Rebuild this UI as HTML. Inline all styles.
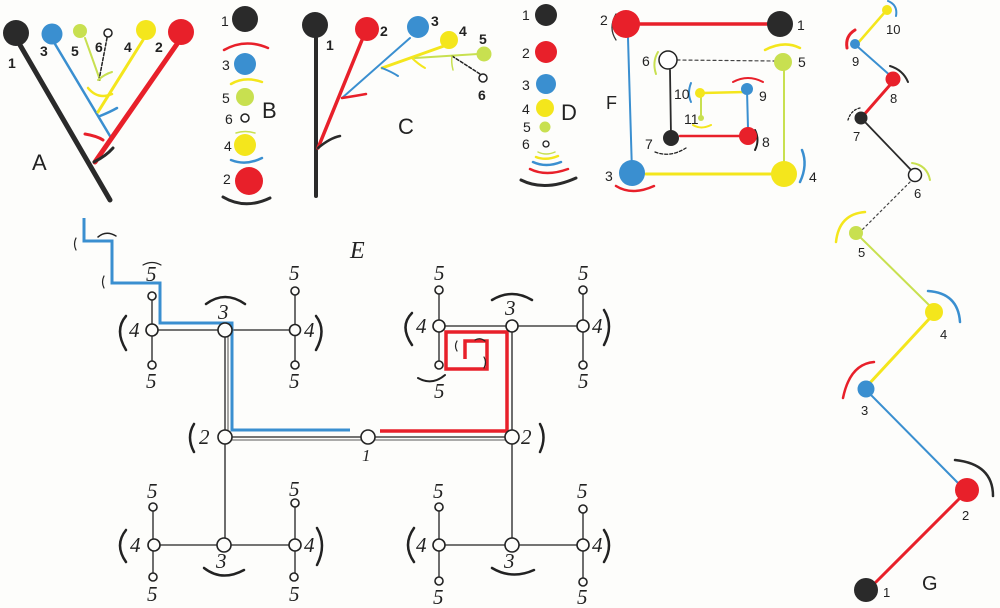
<!DOCTYPE html>
<html><head><meta charset="utf-8"><style>
html,body{margin:0;padding:0;background:#fdfdfb;}
svg{display:block;}
.s{font-family:"Liberation Sans",sans-serif;fill:#222;}
.e{font-family:"Liberation Serif",serif;font-style:italic;fill:#222;}
</style></head><body>
<svg width="1000" height="608" viewBox="0 0 1000 608" xmlns="http://www.w3.org/2000/svg">
<rect width="1000" height="608" fill="#fdfdfb"/>
<!-- ===== A ===== -->
<g fill="none" stroke-linecap="round">
<line x1="20" y1="45" x2="110" y2="200" stroke="#2a2a2a" stroke-width="5"/>
<line x1="55" y1="44" x2="110" y2="136" stroke="#3a8fd0" stroke-width="2.5"/>
<line x1="85" y1="38" x2="100" y2="80" stroke="#c8e050" stroke-width="2"/>
<line x1="107" y1="38" x2="99" y2="80" stroke="#222" stroke-width="1.5" stroke-dasharray="3,2"/>
<line x1="143" y1="40" x2="98" y2="112" stroke="#f4e61c" stroke-width="3"/>
<line x1="177" y1="44" x2="95" y2="162" stroke="#e8202a" stroke-width="5"/>
<path d="M98,80 Q105,74 112,72" stroke="#c8e050" stroke-width="2"/>
<path d="M88,88 Q98,100 112,94" stroke="#f4e61c" stroke-width="2.5"/>
<path d="M100,116 Q110,112 117,108" stroke="#3a8fd0" stroke-width="2.5"/>
<path d="M85,134 Q97,136 103,140" stroke="#e8202a" stroke-width="3"/>
<path d="M94,162 Q106,156 113,148" stroke="#2a2a2a" stroke-width="3"/>
</g>
<circle cx="16" cy="33" r="13" fill="#2a2a2a"/>
<circle cx="52" cy="34" r="10.5" fill="#3a8fd0"/>
<circle cx="80" cy="31" r="7" fill="#c8e050"/>
<circle cx="108" cy="33" r="4" fill="#fff" stroke="#222" stroke-width="1.5"/>
<circle cx="146" cy="30" r="10" fill="#f4e61c"/>
<circle cx="181" cy="32" r="13" fill="#e8202a"/>
<g class="s" font-size="14" font-weight="bold">
<text x="8" y="68">1</text><text x="40" y="56">3</text><text x="71" y="56">5</text><text x="95" y="52">6</text><text x="124" y="52">4</text><text x="155" y="52">2</text>
</g>
<text class="s" x="32" y="170" font-size="22">A</text>
<!-- ===== B ===== -->
<circle cx="245" cy="19" r="13" fill="#2a2a2a"/>
<circle cx="245" cy="64" r="11" fill="#3a8fd0"/>
<circle cx="245" cy="97" r="9" fill="#c8e050"/>
<circle cx="245" cy="118" r="4" fill="#fff" stroke="#222" stroke-width="1.5"/>
<circle cx="245" cy="145" r="11" fill="#f4e61c"/>
<circle cx="249" cy="181" r="14" fill="#e8202a"/>
<g fill="none" stroke-width="2.5" stroke-linecap="round">
<path d="M224,50 Q245,38 268,48" stroke="#e8202a"/>
<path d="M231,84 Q245,76 262,82" stroke="#f4e61c"/>
<path d="M236,133 Q245,130 255,133" stroke="#c8e050" stroke-width="1.5"/>
<path d="M231,160 Q246,166 262,158" stroke="#3a8fd0"/>
<path d="M223,197 Q245,210 270,198" stroke="#2a2a2a" stroke-width="3"/>
</g>
<g class="s" font-size="14"><text x="221" y="26">1</text><text x="222" y="70">3</text><text x="222" y="103">5</text><text x="225" y="124">6</text><text x="224" y="151">4</text><text x="223" y="184">2</text></g>
<text class="s" x="262" y="118" font-size="22">B</text>
<!-- ===== C ===== -->
<g fill="none" stroke-linecap="round">
<line x1="316" y1="38" x2="316" y2="196" stroke="#2a2a2a" stroke-width="4"/>
<line x1="362" y1="40" x2="318" y2="148" stroke="#e8202a" stroke-width="3.5"/>
<line x1="410" y1="38" x2="342" y2="98" stroke="#3a8fd0" stroke-width="2"/>
<line x1="444" y1="46" x2="382" y2="68" stroke="#f4e61c" stroke-width="3"/>
<line x1="478" y1="54" x2="415" y2="58" stroke="#c8e050" stroke-width="2"/>
<line x1="452" y1="56" x2="480" y2="74" stroke="#222" stroke-width="1.5" stroke-dasharray="3,2"/>
<path d="M318,148 Q330,138 340,136" stroke="#2a2a2a" stroke-width="2.5"/>
<path d="M342,98 Q355,96 366,94" stroke="#e8202a" stroke-width="2.5"/>
<path d="M382,68 Q392,72 398,76" stroke="#3a8fd0" stroke-width="2"/>
<path d="M412,58 Q418,64 425,68" stroke="#f4e61c" stroke-width="2"/>
<path d="M452,56 Q451,62 453,70" stroke="#c8e050" stroke-width="1.5"/>
</g>
<circle cx="315" cy="25" r="13" fill="#2a2a2a"/>
<circle cx="367" cy="29" r="12" fill="#e8202a"/>
<circle cx="418" cy="27" r="11" fill="#3a8fd0"/>
<circle cx="449" cy="40" r="9" fill="#f4e61c"/>
<circle cx="484" cy="54" r="7.5" fill="#c8e050"/>
<circle cx="483" cy="78" r="4" fill="#fff" stroke="#222" stroke-width="1.5"/>
<g class="s" font-size="14" font-weight="bold"><text x="326" y="50">1</text><text x="380" y="36">2</text><text x="431" y="26">3</text><text x="459" y="36">4</text><text x="479" y="44">5</text><text x="478" y="100">6</text></g>
<text class="s" x="398" y="134" font-size="22">C</text>
<!-- ===== D ===== -->
<circle cx="546" cy="15" r="11" fill="#2a2a2a"/>
<circle cx="546" cy="52" r="11" fill="#e8202a"/>
<circle cx="546" cy="84" r="10" fill="#3a8fd0"/>
<circle cx="545" cy="108" r="9" fill="#f4e61c"/>
<circle cx="545" cy="127" r="5.5" fill="#c8e050"/>
<circle cx="546" cy="144" r="3" fill="#fff" stroke="#222" stroke-width="1.3"/>
<g fill="none" stroke-width="2.5" stroke-linecap="round">
<path d="M538,152 Q546,156 555,152" stroke="#c8e050" stroke-width="1.5"/>
<path d="M536,157 Q546,161 558,156" stroke="#f4e61c"/>
<path d="M533,162 Q546,168 561,162" stroke="#3a8fd0"/>
<path d="M530,169 Q546,177 568,169" stroke="#e8202a"/>
<path d="M521,180 Q545,192 576,178" stroke="#2a2a2a" stroke-width="3"/>
</g>
<g class="s" font-size="14"><text x="522" y="20">1</text><text x="522" y="58">2</text><text x="522" y="90">3</text><text x="522" y="114">4</text><text x="523" y="132">5</text><text x="522" y="149">6</text></g>
<text class="s" x="561" y="120" font-size="22">D</text>
<!-- ===== F ===== -->
<g fill="none" stroke-linecap="round">
<line x1="628" y1="24" x2="780" y2="24" stroke="#e8202a" stroke-width="3.5"/>
<line x1="628" y1="38" x2="632" y2="172" stroke="#3a8fd0" stroke-width="2"/>
<line x1="646" y1="174" x2="782" y2="174" stroke="#f4e61c" stroke-width="3"/>
<line x1="784" y1="68" x2="784" y2="162" stroke="#c8e050" stroke-width="2"/>
<line x1="677" y1="60" x2="775" y2="61" stroke="#444" stroke-width="1.2" stroke-dasharray="3,3"/>
<line x1="670" y1="70" x2="671" y2="136" stroke="#2a2a2a" stroke-width="1.8"/>
<line x1="680" y1="136" x2="748" y2="136" stroke="#e8202a" stroke-width="2.5"/>
<line x1="747" y1="90" x2="748" y2="128" stroke="#3a8fd0" stroke-width="2"/>
<line x1="702" y1="93" x2="745" y2="92" stroke="#f4e61c" stroke-width="2.5"/>
<line x1="701" y1="98" x2="701" y2="117" stroke="#c8e050" stroke-width="2"/>
<path d="M616,14 Q608,28 616,40" stroke="#333" stroke-width="1.3"/>
<path d="M616,186 Q632,196 654,186" stroke="#e8202a" stroke-width="2.5"/>
<path d="M802,150 Q808,165 800,182" stroke="#3a8fd0" stroke-width="2.5"/>
<path d="M765,50 Q784,40 800,48" stroke="#f4e61c" stroke-width="2.5"/>
<path d="M658,52 Q652,62 656,74" stroke="#c8e050" stroke-width="2"/>
<path d="M655,152 Q670,158 686,148" stroke="#222" stroke-width="1.3" stroke-dasharray="3,2"/>
<path d="M755,130 Q760,140 755,150" stroke="#222" stroke-width="2"/>
<path d="M733,82 Q748,74 763,82" stroke="#e8202a" stroke-width="2"/>
<path d="M691,83 Q687,93 691,102" stroke="#3a8fd0" stroke-width="2"/>
<path d="M693,125 Q701,130 711,125" stroke="#f4e61c" stroke-width="2"/>
</g>
<circle cx="626" cy="24" r="14" fill="#e8202a"/>
<circle cx="780" cy="24" r="13" fill="#2a2a2a"/>
<circle cx="632" cy="173" r="13" fill="#3a8fd0"/>
<circle cx="784" cy="174" r="13" fill="#f4e61c"/>
<circle cx="783" cy="62" r="9" fill="#c8e050"/>
<circle cx="668" cy="60" r="9" fill="#fff" stroke="#222" stroke-width="1.5"/>
<circle cx="671" cy="138" r="8" fill="#2a2a2a"/>
<circle cx="748" cy="136" r="9" fill="#e8202a"/>
<circle cx="747" cy="89" r="6" fill="#3a8fd0"/>
<circle cx="700" cy="93" r="5" fill="#f4e61c"/>
<circle cx="701" cy="118" r="3" fill="#c8e050"/>
<g class="s" font-size="14"><text x="600" y="25">2</text><text x="797" y="30">1</text><text x="798" y="67">5</text><text x="642" y="66">6</text><text x="674" y="99">10</text><text x="759" y="101">9</text><text x="684" y="124">11</text><text x="645" y="149">7</text><text x="762" y="147">8</text><text x="605" y="181">3</text><text x="809" y="182">4</text></g>
<text class="s" x="606" y="109" font-size="18">F</text>
<!-- ===== G ===== -->
<g fill="none" stroke-linecap="round">
<line x1="885" y1="12" x2="858" y2="43" stroke="#f4e61c" stroke-width="2.5"/>
<line x1="858" y1="47" x2="893" y2="78" stroke="#3a8fd0" stroke-width="2"/>
<line x1="890" y1="85" x2="862" y2="117" stroke="#e8202a" stroke-width="3"/>
<line x1="865" y1="122" x2="913" y2="172" stroke="#2a2a2a" stroke-width="1.8"/>
<line x1="910" y1="182" x2="862" y2="230" stroke="#444" stroke-width="1.2" stroke-dasharray="2,3"/>
<line x1="860" y1="237" x2="930" y2="306" stroke="#c8e050" stroke-width="2"/>
<line x1="930" y1="318" x2="868" y2="385" stroke="#f4e61c" stroke-width="3"/>
<line x1="870" y1="394" x2="958" y2="483" stroke="#3a8fd0" stroke-width="2"/>
<line x1="960" y1="498" x2="876" y2="582" stroke="#e8202a" stroke-width="3"/>
<path d="M888,1 Q898,5 896,16" stroke="#3a8fd0" stroke-width="2"/>
<path d="M855,30 Q845,36 847,48" stroke="#e8202a" stroke-width="3"/>
<path d="M890,66 Q903,70 908,82" stroke="#2a2a2a" stroke-width="2"/>
<path d="M860,108 Q851,110 848,120" stroke="#222" stroke-width="1.3" stroke-dasharray="2,2"/>
<path d="M912,163 Q927,165 930,180" stroke="#c8e050" stroke-width="2"/>
<path d="M865,212 Q839,214 836,242" stroke="#f4e61c" stroke-width="2.5"/>
<path d="M928,291 Q958,293 960,322" stroke="#3a8fd0" stroke-width="2.5"/>
<path d="M874,362 Q850,364 843,398" stroke="#e8202a" stroke-width="2.5"/>
<path d="M955,460 Q993,464 993,496" stroke="#2a2a2a" stroke-width="2.5"/>
</g>
<circle cx="887" cy="10" r="5" fill="#f4e61c"/>
<circle cx="855" cy="44" r="5" fill="#3a8fd0"/>
<circle cx="893" cy="79" r="7.5" fill="#e8202a"/>
<circle cx="861" cy="118" r="6.5" fill="#2a2a2a"/>
<circle cx="915" cy="175" r="6.5" fill="#fff" stroke="#222" stroke-width="1.5"/>
<circle cx="856" cy="233" r="7" fill="#c8e050"/>
<circle cx="934" cy="312" r="9" fill="#f4e61c"/>
<circle cx="866" cy="389" r="8.5" fill="#3a8fd0"/>
<circle cx="967" cy="490" r="12" fill="#e8202a"/>
<circle cx="866" cy="590" r="12" fill="#2a2a2a"/>
<g class="s" font-size="13"><text x="886" y="34">10</text><text x="852" y="66">9</text><text x="890" y="103">8</text><text x="853" y="141">7</text><text x="914" y="198">6</text><text x="858" y="257">5</text><text x="940" y="339">4</text><text x="861" y="415">3</text><text x="962" y="520">2</text><text x="883" y="597">1</text></g>
<text class="s" x="922" y="590" font-size="20">G</text>
<!-- ===== E ===== -->
<g fill="none" stroke="#222" stroke-width="1.3">
<line x1="225" y1="437" x2="512" y2="437"/><line x1="225" y1="440" x2="512" y2="440" stroke-width="0.8"/>
<line x1="225" y1="330" x2="225" y2="545"/><line x1="228" y1="330" x2="228" y2="437" stroke-width="0.8"/>
<line x1="512" y1="327" x2="512" y2="545"/>
<line x1="152" y1="330" x2="295" y2="330"/><line x1="152" y1="296" x2="152" y2="365"/><line x1="295" y1="291" x2="295" y2="365"/>
<line x1="439" y1="326" x2="583" y2="326"/><line x1="439" y1="290" x2="439" y2="365"/><line x1="583" y1="290" x2="583" y2="365"/>
<line x1="153" y1="545" x2="295" y2="545"/><line x1="153" y1="507" x2="153" y2="578"/><line x1="295" y1="503" x2="295" y2="578"/>
<line x1="439" y1="545" x2="583" y2="545"/><line x1="439" y1="507" x2="439" y2="581"/><line x1="583" y1="509" x2="583" y2="582"/>
</g>
<path d="M84,218 V241 H112 V283 H160 V323 H232 V430 H350" fill="none" stroke="#3a8fd0" stroke-width="3"/>
<path d="M380,431 H507 V332 H446 V369 H487 V341 H465 V359" fill="none" stroke="#e8202a" stroke-width="3.5"/>
<g fill="#fdfdfb" stroke="#222" stroke-width="1.6">
<circle cx="368" cy="437" r="7"/><circle cx="225" cy="437" r="7"/><circle cx="512" cy="437" r="7"/>
<circle cx="225" cy="330" r="7"/><circle cx="152" cy="330" r="6"/><circle cx="295" cy="330" r="5.5"/>
<circle cx="152" cy="296" r="4"/><circle cx="152" cy="365" r="4"/><circle cx="295" cy="291" r="4"/><circle cx="295" cy="365" r="4"/>
<circle cx="512" cy="326" r="6"/><circle cx="439" cy="326" r="6"/><circle cx="583" cy="326" r="6"/>
<circle cx="439" cy="290" r="4"/><circle cx="439" cy="365" r="4"/><circle cx="583" cy="290" r="4"/><circle cx="583" cy="365" r="4"/>
<circle cx="224" cy="545" r="7"/><circle cx="154" cy="545" r="6"/><circle cx="295" cy="545" r="6"/>
<circle cx="153" cy="507" r="4"/><circle cx="153" cy="577" r="4"/><circle cx="295" cy="503" r="4"/><circle cx="294" cy="577" r="4"/>
<circle cx="512" cy="545" r="7"/><circle cx="439" cy="545" r="6"/><circle cx="583" cy="545" r="6"/>
<circle cx="439" cy="507" r="4"/><circle cx="439" cy="581" r="4"/><circle cx="583" cy="509" r="4"/><circle cx="583" cy="582" r="4"/>
</g>
<g fill="none" stroke="#222" stroke-width="2.5" stroke-linecap="round">
<path d="M206,304 Q225,290 245,304"/>
<path d="M492,300 Q512,288 532,300"/>
<path d="M204,568 Q222,582 244,570"/>
<path d="M492,568 Q512,580 534,570"/>
<path d="M126,316 Q114,330 126,350"/><path d="M316,316 Q327,330 316,350"/>
<path d="M412,313 Q399,326 412,345"/><path d="M604,310 Q614,326 604,345"/>
<path d="M194,424 Q186,437 194,452"/><path d="M540,424 Q547,437 540,452"/>
<path d="M126,530 Q114,545 126,562"/><path d="M317,528 Q327,545 317,565"/>
<path d="M414,528 Q402,545 414,562"/><path d="M604,530 Q614,545 604,562"/>
<path d="M418,378 Q432,386 445,375" stroke-width="2"/>
<path d="M98,237 Q106,230 116,236" stroke-width="1.5"/>
<path d="M76,238 Q73,244 76,250" stroke-width="1.2"/><path d="M104,276 Q101,282 104,288" stroke-width="1.2"/>
<path d="M143,265 Q152,260 161,265" stroke-width="1.2"/>
<path d="M457,341 Q454,346 457,351" stroke-width="1.2"/><path d="M475,340 Q480,337 485,341" stroke-width="1.2"/><path d="M484,357 Q487,362 484,368" stroke-width="1.2"/>
</g>
<g class="e" font-size="21">
<text x="350" y="258" font-size="24">E</text>
<text x="362" y="461" font-size="17">1</text>
<text x="199" y="444">2</text><text x="521" y="444">2</text>
<text x="218" y="319">3</text><text x="505" y="315">3</text><text x="216" y="568">3</text><text x="504" y="568">3</text>
<text x="129" y="337">4</text><text x="304" y="337">4</text><text x="416" y="333">4</text><text x="592" y="333">4</text>
<text x="130" y="552">4</text><text x="304" y="552">4</text><text x="416" y="552">4</text><text x="592" y="552">4</text>
<text x="146" y="281">5</text><text x="146" y="388">5</text><text x="289" y="280">5</text><text x="289" y="388">5</text>
<text x="434" y="280">5</text><text x="434" y="398">5</text><text x="578" y="280">5</text><text x="578" y="388">5</text>
<text x="147" y="498">5</text><text x="147" y="601">5</text><text x="289" y="496">5</text><text x="289" y="601">5</text>
<text x="433" y="498">5</text><text x="433" y="604">5</text><text x="577" y="498">5</text><text x="577" y="604">5</text>
</g>
</svg>
</body></html>
